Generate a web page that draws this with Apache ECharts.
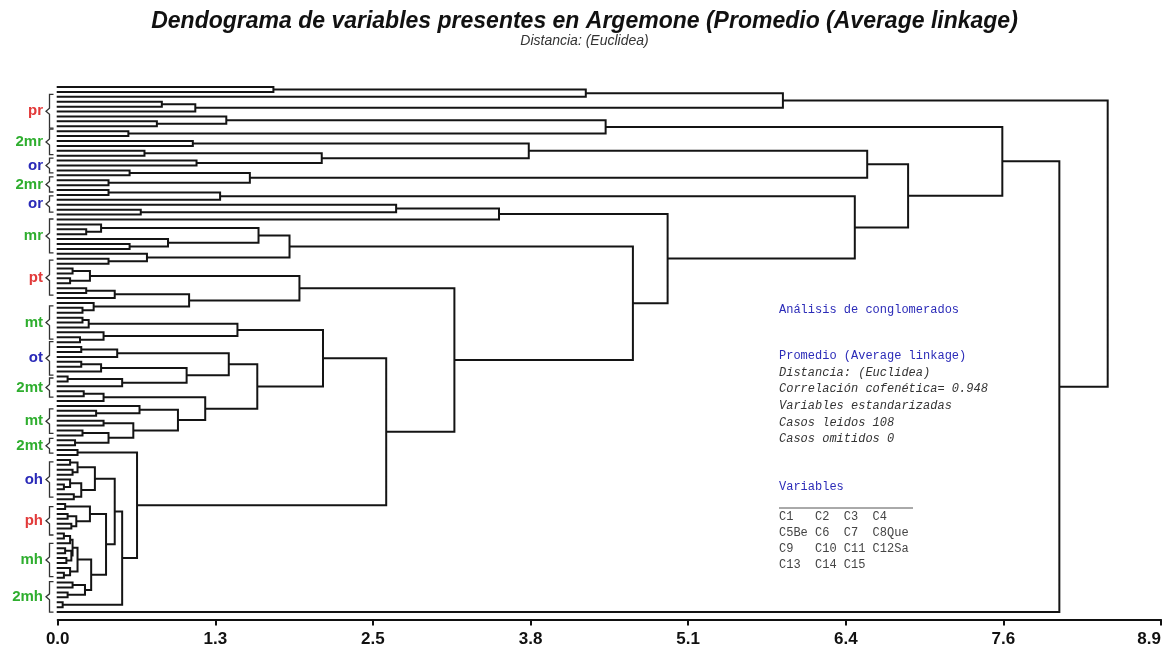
<!DOCTYPE html>
<html><head><meta charset="utf-8">
<script src="https://cdn.jsdelivr.net/npm/echarts@6/dist/echarts.min.js"></script>
<style>html,body{margin:0;padding:0;background:#fff}#c{width:1169px;height:656px}</style>
</head><body><div id="c"></div>
<script>
// ---------- DATA ----------
// Axis (distance) tick labels
const tickLabels = ['0.0', '1.3', '2.5', '3.8', '5.1', '6.4', '7.6', '8.9'];
const distMax = 8.9;

// Dendrogram sub-trees: a node is [height, childA, childB], a leaf is 0
const topCluster  = [5.85, [4.26, [1.74, 0, 0], 0], [1.11, [0.84, 0, 0], 0]];
const qCluster    = [4.42, [1.36, 0, [0.80, 0, 0]], [0.57, 0, 0]];
const r1Cluster   = [6.53, [3.80, [1.09, 0, 0], [2.13, [0.70, 0, 0], [1.12, 0, 0]]], [1.55, [0.58, 0, 0], [0.41, 0, 0]]];
const x195Cluster = [1.31, [0.41, 0, 0], 0];
const n356Cluster = [3.56, [2.73, 0, [0.67, 0, 0]], 0];
const mrCluster   = [1.87, [1.62, [0.35, 0, [0.23, 0, 0]], [0.89, 0, [0.58, 0, 0]]], [0.72, 0, [0.41, 0, 0]]];
const ptCluster   = [1.95, [0.26, [0.12, 0, 0], [0.10, 0, 0]], [1.06, [0.46, [0.23, 0, 0], 0], [0.29, 0, [0.20, 0, 0]]]];
const mtCluster   = [1.45, [0.25, [0.20, 0, 0], 0], [0.37, 0, [0.18, 0, 0]]];
const otCluster   = [1.38, [0.48, [0.19, 0, 0], 0], [1.04, [0.35, [0.19, 0, 0], 0], [0.52, [0.08, 0, 0], 0]]];
const mt2Cluster  = [1.19, [0.37, [0.21, 0, 0], 0], [0.97, [0.66, 0, [0.31, 0, 0]], [0.61, [0.37, 0, 0], [0.41, [0.20, 0, 0], [0.14, 0, 0]]]]];
const ohCluster   = [0.30, [0.16, [0.10, 0, 0], [0.12, 0, 0]], [0.19, [0.10, 0, [0.05, 0, 0]], [0.13, 0, 0]]];
const phCluster   = [0.26, [0.06, 0, 0], [0.15, [0.08, 0, 0], [0.11, 0, 0]]];
const mhCluster   = [0.27, [0.16, [0.12, [0.10, [0.05, 0, 0], 0], [0.11, [0.06, 0, 0], [0.07, 0, 0]]], [0.10, 0, [0.05, 0, 0]]], [0.22, [0.12, 0, 0], [0.08, 0, 0]]];
const hCluster    = [0.64, [0.16, 0, 0], [0.52, [0.46, ohCluster, [0.39, phCluster, mhCluster]], [0.04, 0, 0]]];

// Upper merge heights (top of the tree)
const mergeHeights = {root: 8.47, rest: 8.08, big: 7.62, r: 6.86, r2: 6.43, n492: 4.92, n464: 4.64, n320: 3.20, n265: 2.65, n214: 2.14, n161: 1.61};

// Case groups shown on the left (leaf index ranges)
const groupNames = ['pr', '2mr', 'or', '2mr', 'or', 'mr', 'pt', 'mt', 'ot', '2mt', 'mt', '2mt', 'oh', 'ph', 'mh', '2mh'];
const groupStart = [1.5, 8.6, 14.5, 18.3, 22.2, 26.9, 35.3, 44.6, 51.9, 59.3, 65.6, 71.6, 76.4, 85.5, 93.0, 100.8];
const groupEnd   = [8.4, 13.8, 17.5, 21.4, 25.5, 33.8, 42.4, 51.4, 58.7, 63.2, 70.6, 74.6, 83.6, 91.3, 99.8, 107];

// Info panel text
const infoHeader = 'Análisis de conglomerados';
const infoMethod = 'Promedio (Average linkage)';
const infoLines = ['Distancia: (Euclidea)', 'Correlación cofenética= 0.948', 'Variables estandarizadas', 'Casos leidos 108', 'Casos omitidos 0'];
const varHeader = 'Variables';
const varRows = ['C1   C2  C3  C4', 'C5Be C6  C7  C8Que', 'C9   C10 C11 C12Sa', 'C13  C14 C15'];

// ---------- BUILD ----------
const M = mergeHeights;
const tree = [M.root, topCluster,
  [M.rest,
    [M.big, qCluster,
      [M.r, r1Cluster,
        [M.r2, x195Cluster,
          [M.n492, n356Cluster,
            [M.n464, mrCluster,
              [M.n320, ptCluster,
                [M.n265, [M.n214, mtCluster, [M.n161, otCluster, mt2Cluster]], hCluster]]]]]]],
    0]];

let leafCounter = 0;
const segs = [];
function layout(node) {
  if (!Array.isArray(node)) { return {h: 0, y: leafCounter++}; }
  const A = layout(node[1]);
  const B = layout(node[2]);
  const h = node[0];
  segs.push([A.h, A.y], [h, A.y], [h, B.y], [B.h, B.y], [NaN, NaN]);
  return {h: h, y: (A.y + B.y) / 2};
}
layout(tree);
const nLeaves = leafCounter;

const tickValues = tickLabels.map((_, i) => i * distMax / (tickLabels.length - 1));
const labFam = "'Liberation Sans', Arial, sans-serif";

const chart = echarts.init(document.getElementById('c'), null, {renderer: 'canvas'});
chart.setOption({
  animation: false,
  backgroundColor: '#ffffff',
  title: [
    {text: 'Dendograma de variables presentes en Argemone (Promedio (Average linkage)', left: 'center', top: 5,
     textStyle: {fontFamily: "'Liberation Sans', Arial, sans-serif", fontSize: 23, fontWeight: 'bold', fontStyle: 'italic', color: '#111'}},
    {text: 'Distancia: (Euclidea)', left: 'center', top: 29,
     textStyle: {fontFamily: "'Liberation Sans', sans-serif", fontSize: 14, fontWeight: 'normal', fontStyle: 'italic', color: '#333'}}
  ],
  grid: {left: 57.7, right: 8, top: 82.1, bottom: 36.6, containLabel: false, outerBoundsMode: 'none'},
  xAxis: {
    type: 'value', min: 0, max: distMax, position: 'bottom',
    splitLine: {show: false},
    axisLine: {show: true, onZero: false, lineStyle: {color: '#111', width: 2}},
    axisTick: {show: true, customValues: tickValues, length: 6, lineStyle: {color: '#111', width: 2}},
    axisLabel: {show: true, customValues: tickValues, margin: 11, alignMaxLabel: 'right',
      formatter: function (v) { const i = tickValues.findIndex(t => Math.abs(t - v) < 1e-6); return i >= 0 ? tickLabels[i] : v.toFixed(1); },
      fontFamily: labFam, fontWeight: 'bold', fontSize: 17, color: '#111'}
  },
  yAxis: {type: 'value', inverse: true, min: -1, max: nLeaves + 0.5, show: false, splitLine: {show: false}},
  series: [{
    type: 'line', data: segs, showSymbol: false, symbol: 'none', clip: false, connectNulls: false,
    lineStyle: {color: '#141414', width: 2, join: 'miter', cap: 'square'},
    silent: true
  }]
});

// ---------- Graphic overlays (group brackets + info panel) ----------
const gfx = [];
const toPx = (x, idx) => chart.convertToPixel({xAxisIndex: 0, yAxisIndex: 0}, [x, idx]);
function groupColor(name) {
  if (name[name.length - 2] === 'p') return '#e23a3a';
  if (name[name.length - 2] === 'o') return '#2a2ab8';
  return '#2fae2f';
}
groupNames.forEach((name, i) => {
  const t = toPx(0, groupStart[i])[1];
  const b = toPx(0, groupEnd[i])[1];
  const m = (t + b) / 2;
  gfx.push({type: 'polyline', silent: true,
    shape: {points: [[53.5, t], [49.5, t], [49.5, m - 3], [46, m], [49.5, m + 3], [49.5, b], [53.5, b]]},
    style: {stroke: '#333', lineWidth: 1.3, fill: null}});
  gfx.push({type: 'text', silent: true, x: 43, y: m,
    style: {text: name, fill: groupColor(name), font: "bold 15px " + labFam, textAlign: 'right', textVerticalAlign: 'middle'}});
});

const mono = "'Liberation Mono', 'DejaVu Sans Mono', monospace";
const ix = 779;
gfx.push({type: 'text', silent: true, x: ix, y: 310, style: {text: infoHeader, fill: '#2b2bb8', font: '12px ' + mono, textVerticalAlign: 'middle'}});
gfx.push({type: 'text', silent: true, x: ix, y: 356, style: {text: infoMethod, fill: '#2b2bb8', font: '12px ' + mono, textVerticalAlign: 'middle'}});
infoLines.forEach((s, i) => {
  gfx.push({type: 'text', silent: true, x: ix, y: 372.6 + i * 16.6, style: {text: s, fill: '#333', font: 'italic 12px ' + mono, textVerticalAlign: 'middle'}});
});
gfx.push({type: 'text', silent: true, x: ix, y: 487, style: {text: varHeader, fill: '#2b2bb8', font: '12px ' + mono, textVerticalAlign: 'middle'}});
gfx.push({type: 'line', silent: true, shape: {x1: ix, y1: 508, x2: 913, y2: 508}, style: {stroke: '#555', lineWidth: 1}});
varRows.forEach((s, i) => {
  gfx.push({type: 'text', silent: true, x: ix, y: 517 + i * 16, style: {text: s, fill: '#444', font: '12px ' + mono, textVerticalAlign: 'middle'}});
});
chart.setOption({graphic: gfx});
</script>
</body></html>
